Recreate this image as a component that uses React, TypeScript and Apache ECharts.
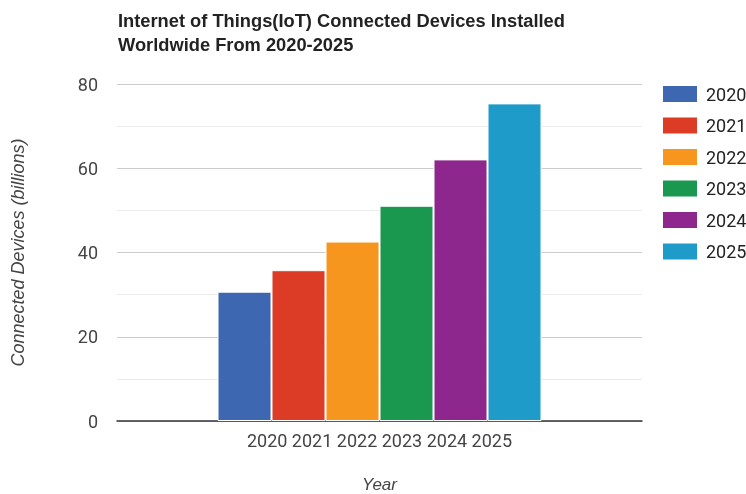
import React, { useEffect, useRef } from "react";
import * as echarts from "echarts";

const years = ["2020", "2021", "2022", "2023", "2024", "2025"];
const devices = [30.7, 35.8, 42.6, 51.1, 62.1, 75.4];
const colors = ["#3d67b1", "#dc3b26", "#f7961e", "#1a9850", "#8e278d", "#1f9bc9"];
const yTicks = [0, 20, 40, 60, 80];

export default function App() {
  const ref = useRef<HTMLDivElement>(null);
  useEffect(() => {
    if (!ref.current) return;
    const chart = echarts.init(ref.current, undefined, { renderer: "svg" });
    chart.setOption({
      animation: false,
      title: {
        text: "Internet of Things(IoT) Connected Devices Installed\nWorldwide From 2020-2025",
        left: 118,
        top: 8,
        padding: 0,
        textStyle: {
          fontFamily: "Liberation Sans, Arial, sans-serif",
          fontWeight: "bold",
          fontSize: 18.3,
          lineHeight: 24,
          color: "#222",
        },
      },
      legend: {
        orient: "vertical",
        left: 661,
        top: 84,
        padding: 0,
        itemWidth: 36,
        itemHeight: 18,
        itemGap: 11.5,
        icon: "rect",
        data: years,
        textStyle: {
          fontFamily: "Roboto, sans-serif",
          fontSize: 18,
          color: "#222",
          padding: [0, 0, 0, 3],
        },
      },
      grid: { left: 117, right: 104, top: 84, bottom: 73, outerBoundsMode: "none" },
      xAxis: {
        type: "category",
        data: [years.join(" ")],
        name: "Year",
        nameLocation: "middle",
        nameGap: 55,
        nameTextStyle: {
          fontFamily: "Liberation Sans, Arial, sans-serif",
          fontStyle: "italic",
          fontSize: 17,
          color: "#444",
        },
        axisTick: { show: false },
        axisLine: { lineStyle: { color: "#333", width: 1.5 } },
        axisLabel: {
          fontFamily: "Roboto, sans-serif",
          fontSize: 18,
          color: "#444",
          margin: 10,
        },
      },
      yAxis: {
        type: "value",
        min: yTicks[0],
        max: yTicks[yTicks.length - 1],
        interval: 20,
        name: "Connected Devices (billions)",
        nameLocation: "middle",
        nameGap: 90,
        nameTextStyle: {
          fontFamily: "Liberation Sans, Arial, sans-serif",
          fontStyle: "italic",
          fontSize: 18,
          color: "#444",
        },
        axisLine: { show: false },
        axisTick: { show: false },
        axisLabel: {
          fontFamily: "Roboto, sans-serif",
          fontSize: 18,
          color: "#444",
          margin: 19,
        },
        splitLine: { lineStyle: { color: "#cccccc", width: 1 } },
        minorTick: { show: false, splitNumber: 2 },
        minorSplitLine: { show: true, lineStyle: { color: "#ebebeb", width: 1 } },
      },
      series: years.map((y, i) => ({
        name: y,
        type: "bar",
        data: [devices[i]],
        barWidth: 54,
        barGap: "0%",
        itemStyle: { color: colors[i], borderColor: "#ffffff", borderWidth: 1 },
      })),
    });
    return () => chart.dispose();
  }, []);
  return (
    <div
      ref={ref}
      style={{ position: "fixed", left: 0, top: 0, width: 746, height: 494 }}
    />
  );
}
